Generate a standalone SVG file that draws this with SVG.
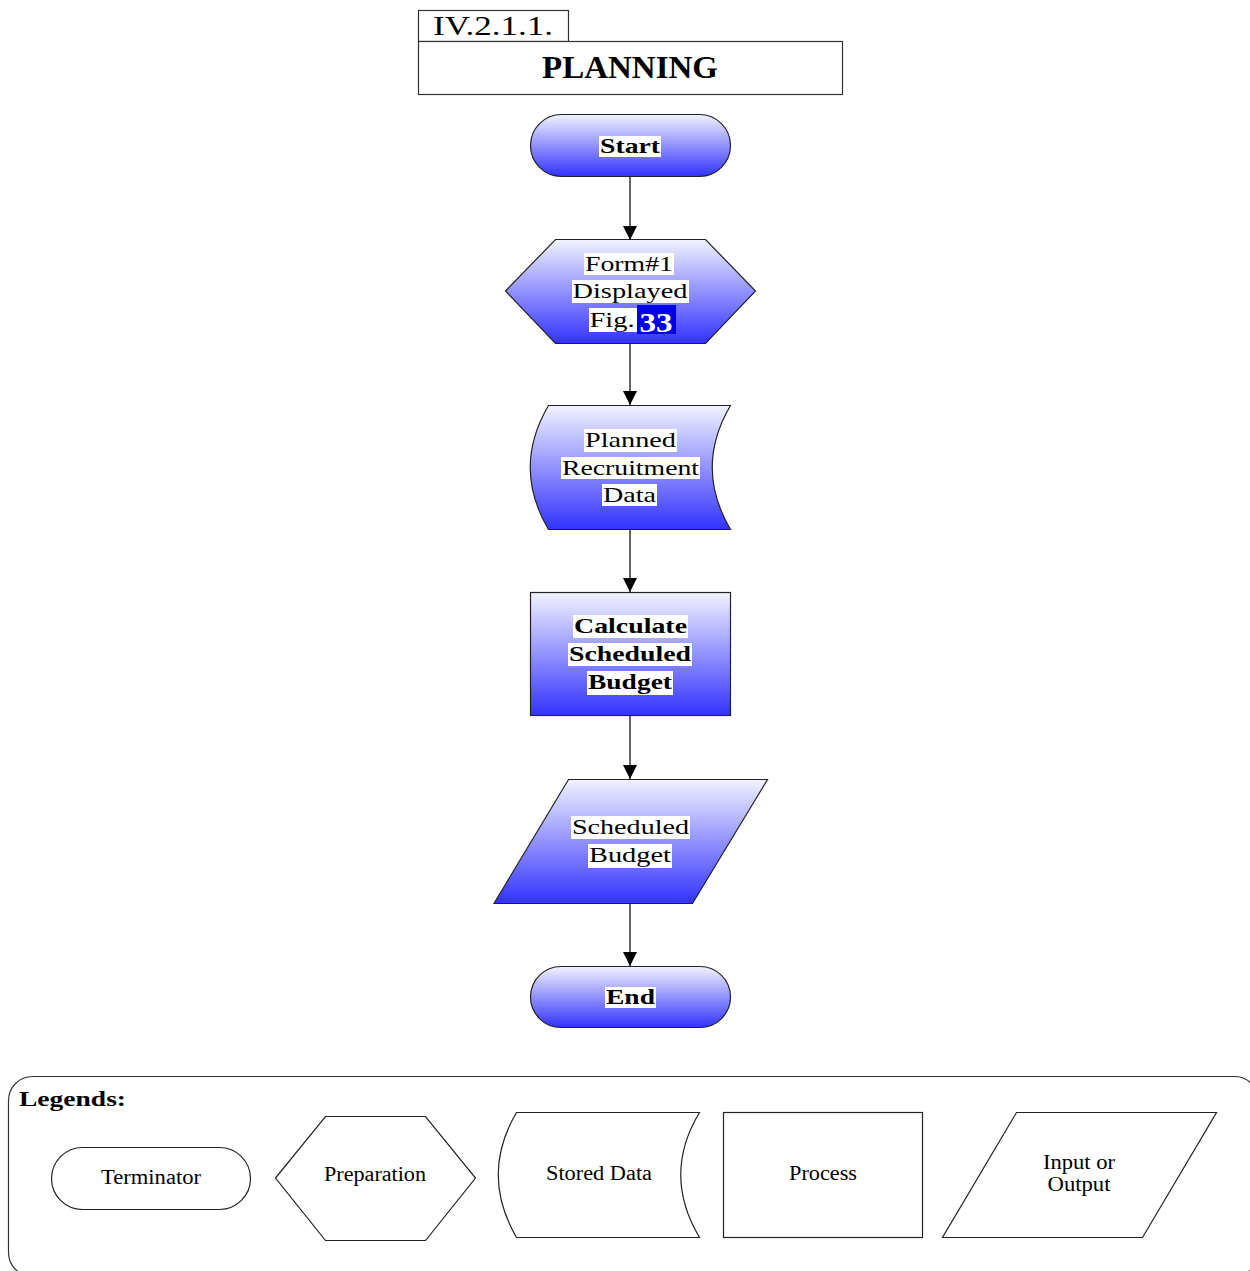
<svg xmlns="http://www.w3.org/2000/svg" width="1250" height="1271" viewBox="0 0 1250 1271">
  <defs>
    <linearGradient id="blueFill" x1="0" y1="0" x2="0" y2="1">
      <stop offset="0" stop-color="#f2f2ff"/>
      <stop offset="1" stop-color="#3232ff"/>
    </linearGradient>
    <marker id="arrow" markerWidth="14" markerHeight="14" refX="14" refY="7" orient="auto" markerUnits="userSpaceOnUse">
      <path d="M0,0 L14,7 L0,14 Z" fill="#000"/>
    </marker>
    <style>
      .shape { fill: url(#blueFill); stroke: #222; stroke-width: 1.2; }
      .plain { fill: #fff; stroke: #222; stroke-width: 1.2; }
      .frame { fill: #fff; stroke: #333; stroke-width: 1.2; }
      .hl { fill: #fff; }
      .t { font-family: "Liberation Serif", "Times New Roman", serif; font-size: 22px; fill: #000; text-anchor: middle; }
      .tb { font-family: "Liberation Serif", "Times New Roman", serif; font-size: 22px; font-weight: bold; fill: #000; text-anchor: middle; }
      .leg { font-family: "Liberation Serif", "Times New Roman", serif; font-size: 20px; fill: #000; text-anchor: middle; }
      .conn { stroke: #000; stroke-width: 1.2; fill: none; marker-end: url(#arrow); }
    </style>
  </defs>

  <rect x="0" y="0" width="1250" height="1271" fill="#fff"/>

  <!-- Section heading -->
  <g id="heading">
    <rect x="418.5" y="10.5" width="150" height="31" class="frame"/>
    <text x="493" y="35" font-family="Liberation Serif, serif" font-size="27" text-anchor="middle" textLength="120" lengthAdjust="spacingAndGlyphs">IV.2.1.1.</text>
    <rect x="418.5" y="41.5" width="424" height="53" class="frame"/>
    <text x="630" y="78" font-family="Liberation Serif, serif" font-size="31" font-weight="bold" text-anchor="middle" textLength="176" lengthAdjust="spacingAndGlyphs">PLANNING</text>
  </g>

  <!-- Connectors -->
  <g id="connectors">
    <line x1="630" y1="177" x2="630" y2="240" class="conn"/>
    <line x1="630" y1="343" x2="630" y2="405" class="conn"/>
    <line x1="630" y1="530" x2="630" y2="592" class="conn"/>
    <line x1="630" y1="716" x2="630" y2="779" class="conn"/>
    <line x1="630" y1="903" x2="630" y2="966" class="conn"/>
  </g>

  <!-- Start -->
  <g id="start">
    <rect x="530.5" y="114.5" width="200" height="62" rx="31" class="shape"/>
    <rect x="599" y="136" width="62" height="21" class="hl"/>
    <text x="630" y="153" class="tb" textLength="60" lengthAdjust="spacingAndGlyphs">Start</text>
  </g>

  <!-- Form#1 displayed -->
  <g id="form1">
    <polygon points="505.5,291 555.5,239.5 705.5,239.5 755.5,291 705.5,343.5 555.5,343.5" class="shape"/>
    <rect x="584" y="253" width="90" height="22" class="hl"/>
    <text x="629" y="271" class="t" textLength="88" lengthAdjust="spacingAndGlyphs">Form#1</text>
    <rect x="572" y="280" width="117" height="23" class="hl"/>
    <text x="630" y="298" class="t" textLength="115" lengthAdjust="spacingAndGlyphs">Displayed</text>
    <rect x="589" y="308" width="48" height="24" class="hl"/>
    <text x="612" y="327" class="t" textLength="45" lengthAdjust="spacingAndGlyphs">Fig.</text>
    <rect x="637" y="305" width="39" height="29" fill="#0000e6"/>
    <text x="656" y="332" font-family="Liberation Serif, serif" font-size="28" font-weight="bold" fill="#fff" text-anchor="middle" textLength="33" lengthAdjust="spacingAndGlyphs">33</text>
  </g>

  <!-- Planned recruitment data -->
  <g id="planned-data">
    <path d="M548.5,405.5 L730.5,405.5 Q694,467.5 730.5,529.5 L548.5,529.5 Q512,467.5 548.5,405.5 Z" class="shape"/>
    <rect x="584" y="429" width="93" height="23" class="hl"/>
    <text x="630.5" y="447" class="t" textLength="91" lengthAdjust="spacingAndGlyphs">Planned</text>
    <rect x="561" y="457" width="139" height="22" class="hl"/>
    <text x="630.5" y="475" class="t" textLength="137" lengthAdjust="spacingAndGlyphs">Recruitment</text>
    <rect x="602" y="484" width="55" height="22" class="hl"/>
    <text x="629.5" y="502" class="t" textLength="53" lengthAdjust="spacingAndGlyphs">Data</text>
  </g>

  <!-- Calculate scheduled budget -->
  <g id="calculate">
    <rect x="530.5" y="592.5" width="200" height="123" class="shape"/>
    <rect x="573" y="615" width="115" height="23" class="hl"/>
    <text x="630.5" y="633" class="tb" textLength="113" lengthAdjust="spacingAndGlyphs">Calculate</text>
    <rect x="568" y="643" width="124" height="23" class="hl"/>
    <text x="630" y="661" class="tb" textLength="122" lengthAdjust="spacingAndGlyphs">Scheduled</text>
    <rect x="587" y="671" width="86" height="24" class="hl"/>
    <text x="630" y="689" class="tb" textLength="84" lengthAdjust="spacingAndGlyphs">Budget</text>
  </g>

  <!-- Scheduled budget output -->
  <g id="scheduled-budget">
    <polygon points="568.5,779.5 767.5,779.5 692.5,903.5 494,903.5" class="shape"/>
    <rect x="571" y="816" width="119" height="23" class="hl"/>
    <text x="630.5" y="834" class="t" textLength="117" lengthAdjust="spacingAndGlyphs">Scheduled</text>
    <rect x="588" y="844" width="84" height="24" class="hl"/>
    <text x="630" y="862" class="t" textLength="82" lengthAdjust="spacingAndGlyphs">Budget</text>
  </g>

  <!-- End -->
  <g id="end">
    <rect x="530.5" y="966.5" width="200" height="61" rx="30.5" class="shape"/>
    <rect x="605" y="987" width="51" height="21" class="hl"/>
    <text x="630.5" y="1004" class="tb" textLength="49" lengthAdjust="spacingAndGlyphs">End</text>
  </g>

  <!-- Legend panel -->
  <g id="legend">
    <rect x="8.5" y="1076.5" width="1250" height="200" rx="24" class="frame" fill="none"/>
    <text x="19" y="1106" font-family="Liberation Serif, serif" font-size="22" font-weight="bold" textLength="107" lengthAdjust="spacingAndGlyphs">Legends:</text>

    <g id="legend-terminator">
      <rect x="51.5" y="1147.5" width="199" height="62" rx="31" class="plain"/>
      <text x="151" y="1184" class="leg" textLength="100" lengthAdjust="spacingAndGlyphs">Terminator</text>
    </g>
    <g id="legend-preparation">
      <polygon points="275.5,1178 325.5,1116.5 425.5,1116.5 475.5,1178 425.5,1240.5 325.5,1240.5" class="plain"/>
      <text x="375" y="1181" class="leg" textLength="102" lengthAdjust="spacingAndGlyphs">Preparation</text>
    </g>
    <g id="legend-stored">
      <path d="M516.5,1112.5 L699.5,1112.5 Q662,1174.5 699.5,1237.5 L516.5,1237.5 Q480,1174.5 516.5,1112.5 Z" class="plain"/>
      <text x="599" y="1180" class="leg" textLength="106" lengthAdjust="spacingAndGlyphs">Stored Data</text>
    </g>
    <g id="legend-process">
      <rect x="723.5" y="1112.5" width="199" height="125" class="plain"/>
      <text x="823" y="1180" class="leg" textLength="68" lengthAdjust="spacingAndGlyphs">Process</text>
    </g>
    <g id="legend-io">
      <polygon points="1016.5,1112.5 1216.5,1112.5 1142.5,1237.5 942.5,1237.5" class="plain"/>
      <text x="1079" y="1169" class="leg" textLength="72" lengthAdjust="spacingAndGlyphs">Input or</text>
      <text x="1079" y="1191" class="leg" textLength="63" lengthAdjust="spacingAndGlyphs">Output</text>
    </g>
  </g>
</svg>
